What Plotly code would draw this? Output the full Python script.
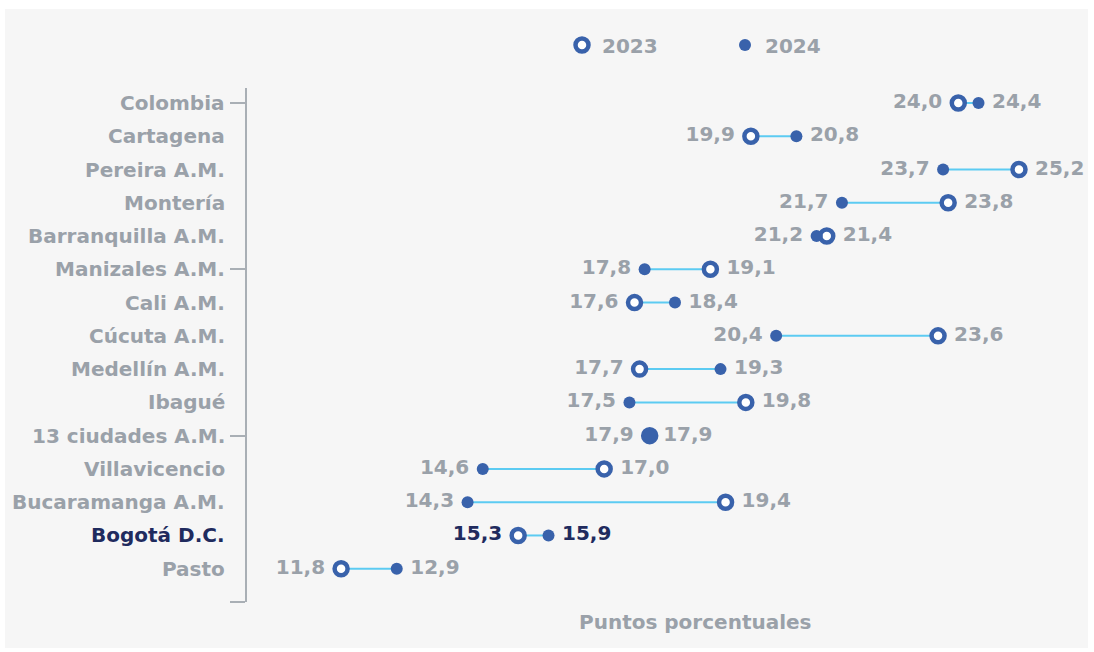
import plotly.graph_objects as go

# ---- data ----
categories = ["Colombia", "Cartagena", "Pereira A.M.", "Montería", "Barranquilla A.M.",
              "Manizales A.M.", "Cali A.M.", "Cúcuta A.M.", "Medellín A.M.", "Ibagué",
              "13 ciudades A.M.", "Villavicencio", "Bucaramanga A.M.", "Bogotá D.C.", "Pasto"]
v2023 = [24.0, 19.9, 25.2, 23.8, 21.4, 19.1, 17.6, 23.6, 17.7, 19.8, 17.9, 17.0, 19.4, 15.3, 11.8]
v2024 = [24.4, 20.8, 23.7, 21.7, 21.2, 17.8, 18.4, 20.4, 19.3, 17.5, 17.9, 14.6, 14.3, 15.9, 12.9]
year_names = ["2023", "2024"]
highlight = "Bogotá D.C."
axis_title = "Puntos porcentuales"
tick_rows = [0, 5, 10, 15]

# ---- styles ----
FONT = "DejaVu Sans"
GRAY = "#9aa1a9"
NAVY = "#1f2b5e"
BLUE = "#3962ab"
LINE = "#5ccbf2"
AXIS = "#a9afb5"
PANEL = "#f6f6f6"
FS = 20

W, H = 1094, 652
ML, MR, MT, MB = 247, 31, 88, 50
PW, PH = W - ML - MR, H - MT - MB

ys = list(range(len(categories)))
fmt = lambda v: f"{v:.1f}".replace(".", ",")
colors = [NAVY if c == highlight else GRAY for c in categories]

lx, ly = [], []
for a, b, y in zip(v2023, v2024, ys):
    lx += [a, b, None]
    ly += [y, y, None]

pos23 = ["middle left" if a <= b else "middle right" for a, b in zip(v2023, v2024)]
pos24 = ["middle right" if b >= a else "middle left" for a, b in zip(v2023, v2024)]

fig = go.Figure()
fig.add_trace(go.Scatter(x=lx, y=ly, mode="lines", line=dict(color=LINE, width=2),
                         showlegend=False, hoverinfo="skip"))
fig.add_trace(go.Scatter(
    x=v2023, y=ys, mode="markers", name=year_names[0],
    marker=dict(size=13, color="white", line=dict(color=BLUE, width=4.5)),
    cliponaxis=False))
fig.add_trace(go.Scatter(
    x=v2024, y=ys, mode="markers", name=year_names[1],
    marker=dict(size=12, color=BLUE), cliponaxis=False))
# value labels (invisible markers set the label offset)
fig.add_trace(go.Scatter(
    x=v2023, y=ys, mode="markers+text", showlegend=False, hoverinfo="skip",
    marker=dict(size=24, opacity=0),
    text=[fmt(v) for v in v2023], textposition=pos23,
    textfont=dict(family=FONT, size=FS, color=colors, weight="bold"),
    cliponaxis=False))
fig.add_trace(go.Scatter(
    x=v2024, y=ys, mode="markers+text", showlegend=False, hoverinfo="skip",
    marker=dict(size=20, opacity=0),
    text=[fmt(v) for v in v2024], textposition=pos24,
    textfont=dict(family=FONT, size=FS, color=colors, weight="bold"),
    cliponaxis=False))

annotations = [dict(x=0, xref="paper", y=y, yref="y", text=c, showarrow=False,
                    xanchor="right", yanchor="middle", xshift=-20,
                    font=dict(family=FONT, size=FS, color=col, weight="bold"))
               for c, y, col in zip(categories, ys, colors)]
annotations.append(dict(x=(695 - ML) / PW, xref="paper", y=(MT + PH - 622) / PH, yref="paper",
                        text=axis_title, showarrow=False, xanchor="center", yanchor="middle",
                        font=dict(family=FONT, size=FS, color=GRAY, weight="bold")))

fig.update_layout(
    width=W, height=H, margin=dict(l=ML, r=MR, t=MT, b=MB),
    paper_bgcolor="white", plot_bgcolor="rgba(0,0,0,0)",
    font=dict(family=FONT, size=FS, color=GRAY),
    xaxis=dict(range=[9.94, 26.07], showgrid=False, zeroline=False, showticklabels=False,
               showline=False, ticks=""),
    yaxis=dict(range=[15, -0.45], showgrid=False, zeroline=False, showticklabels=False,
               showline=True, linecolor=AXIS, linewidth=1.5,
               tickmode="array", tickvals=tick_rows, ticks="outside", ticklen=15,
               tickcolor=AXIS, tickwidth=1.5),
    legend=dict(orientation="h", x=(562 - ML) / PW, y=(MT + PH - 45) / PH,
                xanchor="left", yanchor="middle", bgcolor="rgba(0,0,0,0)",
                font=dict(family=FONT, size=FS, color=GRAY, weight="bold"),
                entrywidth=118, entrywidthmode="pixels", itemwidth=30),
    annotations=annotations,
    shapes=[dict(type="rect", xref="paper", yref="paper", layer="below",
                 x0=(5 - ML) / PW, x1=(1088 - ML) / PW,
                 y0=(MT + PH - 648) / PH, y1=(MT + PH - 9) / PH,
                 fillcolor=PANEL, line=dict(width=0))],
    showlegend=True,
)

fig.write_html("out.html", config={"displayModeBar": False},
               post_script="document.body.style.margin='0';document.body.style.overflow='hidden';")
